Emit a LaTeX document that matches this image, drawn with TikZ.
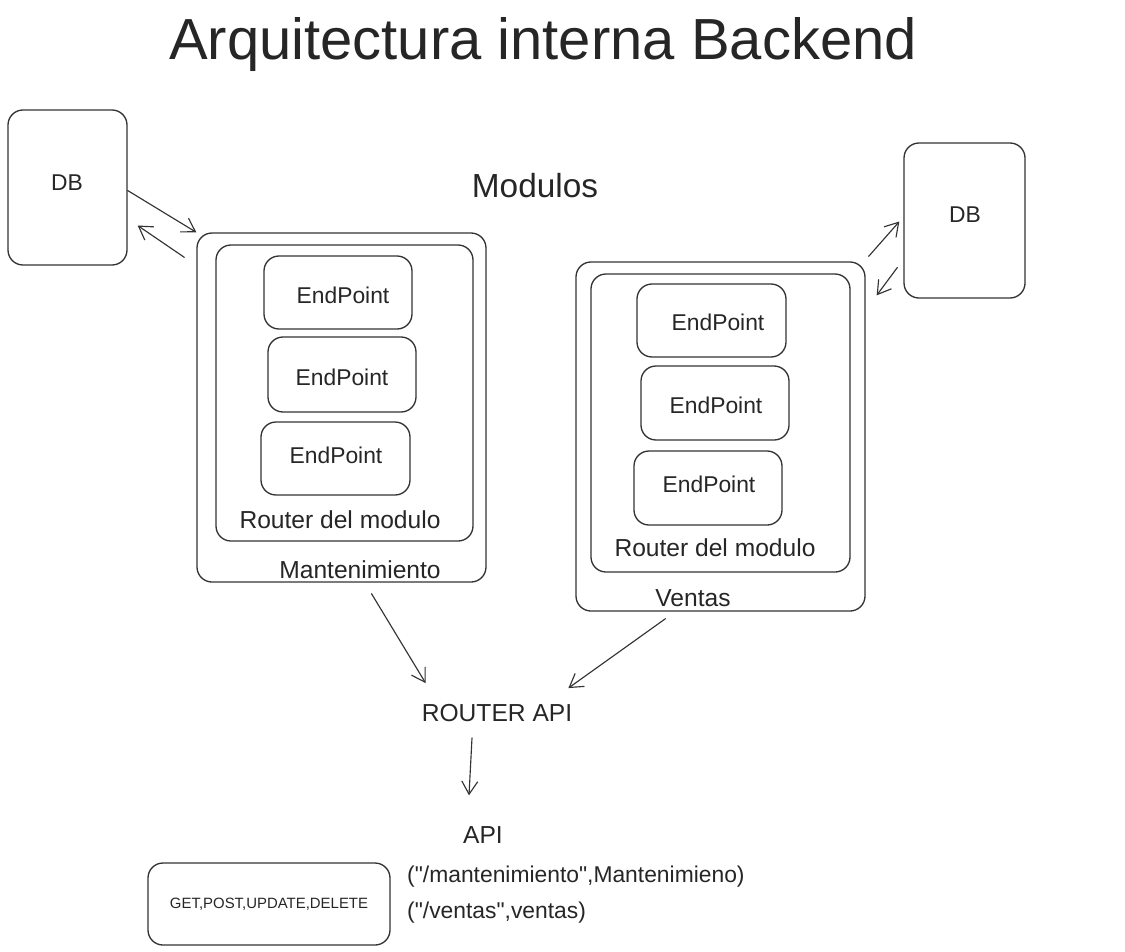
\documentclass[tikz,border=0pt]{standalone}
\usepackage{fontspec}
\setmainfont{Liberation Sans}
\newfontfamily\rutafont{Liberation Sans}
\usetikzlibrary{arrows.meta,fit}
\begin{document}
\begin{tikzpicture}[x=0.02cm, y=-0.02cm, line join=round, line cap=round,
		>={Straight Barb[length=2.6mm,width=3.2mm]},
		box/.style={draw=black!80, line width=0.75pt, rounded corners=0.3cm, inner sep=0pt},
		txt/.style={font=\fontsize{13}{15}\selectfont, text=black!85},
		conn/.style={->, draw=black!80, line width=0.65pt}]
	\useasboundingbox (0,0) rectangle (1125,951);
	\node[font=\fontsize{33}{37}\selectfont, text=black!85] (titulo) at (543,45) {Arquitectura interna Backend};
	\node[font=\fontsize{19}{22}\selectfont, text=black!85] (modulos) at (535,186) {Modulos};
	% bases de datos
	\node[box, fit={(8,110)(127,265)}] (dbIzq) {};
	\node[txt] (dbIzqTxt) at (67,183) {DB};
	\node[box, fit={(904,143)(1025,298)}] (dbDer) {};
	\node[txt] (dbDerTxt) at (965,215) {DB};
	% modulo mantenimiento
	\node[box, fit={(197,233)(486,582)}] (mant) {};
	\node[box, fit={(216,245)(473,541)}] (mantRouter) {};
	\node[box, fit={(264,256)(412,329)}] (mantEpA) {};
	\node[box, fit={(268,337)(416,412)}] (mantEpB) {};
	\node[box, fit={(261,422)(410,495)}] (mantEpC) {};
	\node[txt] (mantEpATxt) at (343,295) {EndPoint};
	\node[txt] (mantEpBTxt) at (342,377) {EndPoint};
	\node[txt] (mantEpCTxt) at (336,455) {EndPoint};
	\node[txt, font=\fontsize{14}{16}\selectfont] (mantRouterTxt) at (340,520) {Router del modulo};
	\node[txt, font=\fontsize{14}{16}\selectfont] (mantTxt) at (360,570) {Mantenimiento};
	% modulo ventas
	\node[box, fit={(576,262)(865,611)}] (ventas) {};
	\node[box, fit={(591,274)(850,572)}] (ventasRouter) {};
	\node[box, fit={(637,284)(786,357)}] (ventasEpA) {};
	\node[box, fit={(641,366)(789,440)}] (ventasEpB) {};
	\node[box, fit={(634,451)(782,525)}] (ventasEpC) {};
	\node[txt] (ventasEpATxt) at (718,322) {EndPoint};
	\node[txt] (ventasEpBTxt) at (716,405) {EndPoint};
	\node[txt] (ventasEpCTxt) at (709,484) {EndPoint};
	\node[txt, font=\fontsize{14}{16}\selectfont] (ventasRouterTxt) at (715,548) {Router del modulo};
	\node[txt, font=\fontsize{14}{16}\selectfont] (ventasTxt) at (693,598) {Ventas};
	% router y api
	\node[txt, font=\fontsize{14}{16}\selectfont] (routerApi) at (497,713) {ROUTER API};
	\node[txt, font=\fontsize{14}{16}\selectfont] (api) at (483,835) {API};
	\node[box, fit={(148,863)(390,945)}] (metodos) {};
	\node[txt, font=\fontsize{8.5}{10}\selectfont] (metodosTxt) at (metodos.center) {GET,POST,UPDATE,DELETE};
	\node[txt, font=\fontsize{13}{15}\rutafont, anchor=west] (rutaMant) at (401,877) {("/mantenimiento",Mantenimieno)};
	\node[txt, font=\fontsize{13}{15}\rutafont, anchor=west] (rutaVentas) at (401,913) {("/ventas",ventas)};
	% conexiones
	\draw[conn] ([shift={(0,3)}]dbIzq.east) -- (mant.north west);
	\draw[conn] ([shift={(-12,25)}]mant.north west) -- ([shift={(10,38)}]dbIzq.east);
	\draw[conn] ([shift={(3,-5)}]ventas.north east) -- ([shift={(-4,1)}]dbDer.west);
	\draw[conn] ([shift={(-6,47)}]dbDer.west) -- ([shift={(11,34)}]ventas.north east);
	\draw[conn] ([shift={(30,11)}]mant.south) -- ([shift={(10,-15)}]routerApi.north west);
	\draw[conn] ([shift={(-55,7)}]ventas.south) -- ([shift={(-10,-10)}]routerApi.north east);
	\draw[conn] ([shift={(-25,10)}]routerApi.south) -- ([shift={(-14,-25)}]api.north);
\end{tikzpicture}
\end{document}
